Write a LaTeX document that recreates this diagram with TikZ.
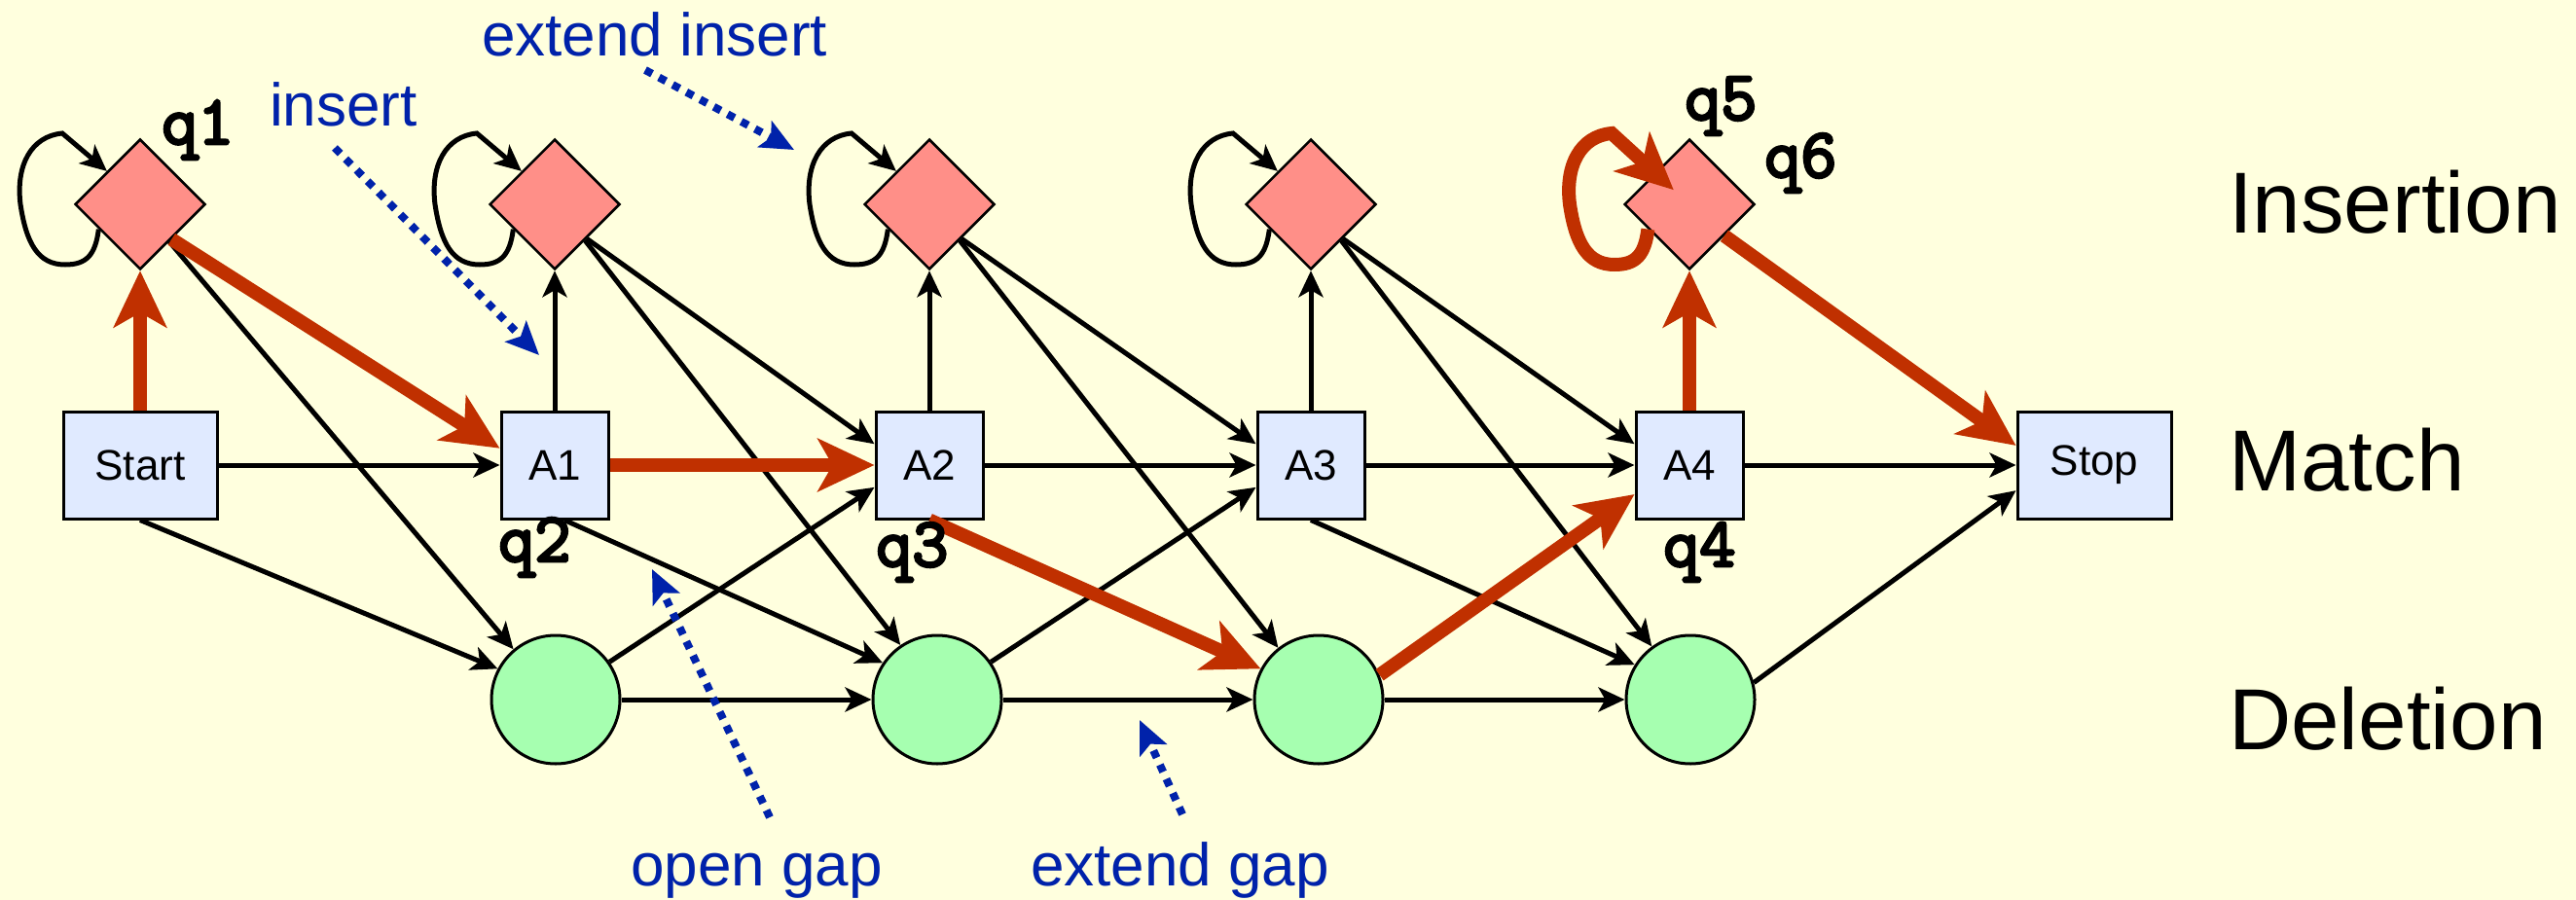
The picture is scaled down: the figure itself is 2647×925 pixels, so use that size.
\documentclass[tikz,border=0pt]{standalone}
\usepackage{fontspec}
\setmainfont{Liberation Sans}
\newfontfamily\qfont{Latin Modern Mono}[FakeBold=4]
\usetikzlibrary{arrows.meta,shapes.geometric}
\definecolor{bg}{RGB}{255,255,222}
\definecolor{insfill}{RGB}{255,143,136}
\definecolor{matchfill}{RGB}{224,234,255}
\definecolor{delfill}{RGB}{166,255,176}
\definecolor{hot}{RGB}{192,48,0}
\definecolor{note}{RGB}{0,34,170}
\begin{document}
\begin{tikzpicture}[x=1pt,y=-1pt,
  insnode/.style={diamond, draw=black, line width=2.5pt, fill=insfill, minimum width=134pt, minimum height=134pt, inner sep=0pt, shape aspect=1},
  matchnode/.style={rectangle, draw=black, line width=3pt, fill=matchfill, minimum width=110pt, minimum height=110pt, inner sep=0pt, font=\fontsize{44pt}{50pt}\selectfont},
  endnode/.style={matchnode, minimum width=158pt},
  delnode/.style={circle, draw=black, line width=3pt, fill=delfill, minimum size=132pt, inner sep=0pt},
  edge/.style={line width=5pt, -{Stealth[length=27pt,width=25pt,inset=7pt]}},
  hotedge/.style={line width=14pt, hot, -{Stealth[length=58pt,width=54pt,inset=15pt]}},
  noteedge/.style={note, line width=8pt, dash pattern=on 8pt off 8pt, -{Stealth[length=34pt,width=30pt,inset=7pt]}},
  notelbl/.style={note, inner sep=0pt, anchor=base west, font=\fontsize{62pt}{70pt}\selectfont},
  rowlbl/.style={black, inner sep=0pt, anchor=base west, font=\fontsize{89pt}{100pt}\selectfont},
  qlbl/.style={black, inner sep=0pt, anchor=base west, font=\qfont\fontsize{72pt}{74pt}\selectfont},
  blkloop/.style={line width=5pt, -{Stealth[length=27pt,width=25pt,inset=7pt]}},
  hotloop/.style={line width=14pt, hot, -{Stealth[length=58pt,width=54pt,inset=15pt]}}
]
\fill[bg] (0,0) rectangle (2647,925);
\useasboundingbox (0,0) rectangle (2647,925);

% insertion states
\node[insnode] (i0) at (144,210) {};
\node[insnode] (i1) at (570,210) {};
\node[insnode] (i2) at (955,210) {};
\node[insnode] (i3) at (1347,210) {};
\node[insnode] (i4) at (1736,210) {};
% match states
\node[endnode] (start) at (144,478) {Start};
\node[matchnode] (m1) at (570,478) {A1};
\node[matchnode] (m2) at (955,478) {A2};
\node[matchnode] (m3) at (1347,478) {A3};
\node[matchnode] (m4) at (1736,478) {A4};
\node[endnode] (stop) at (2152,478) {Stop};
% deletion states
\node[delnode] (d1) at (571,719) {};
\node[delnode] (d2) at (963,719) {};
\node[delnode] (d3) at (1355,719) {};
\node[delnode] (d4) at (1737,719) {};

% self loops
\foreach \n in {i0,i1,i2,i3}{
  \begin{scope}[shift={(\n.center)}]
    \draw[blkloop] (\n.211) .. controls (-46,52) and (-55,62) .. (-77,62)
      .. controls (-105,62) and (-117,40) .. (-123,0)
      .. controls (-128,-40) and (-112,-70) .. (-80,-73) -- (\n.135);
  \end{scope}
}
\begin{scope}[shift={(i4.center)}]
  \draw[hotloop, shorten >=22pt] (i4.211) .. controls (-46,52) and (-55,62) .. (-77,62)
    .. controls (-105,62) and (-117,40) .. (-123,0)
    .. controls (-128,-40) and (-112,-70) .. (-80,-73) -- (i4.center);
\end{scope}

% from Start
\draw[edge] (start.east) -- (m1.west);
\draw[edge] (start.south) -- (d1.152);
% from i0
\draw[edge] (i0.-52) -- (d1.130);
% from m1
\draw[edge] (m1.north) -- (i1.south);
\draw[edge] (m1.-80) -- (d2.146);
% from i1
\draw[edge] (i1.-47) -- (m2.159);
\draw[edge] (i1.-50) -- (d2.124);
% from d1
\draw[edge] (d1.35) -- (m2.-158);
\draw[edge] (d1.east) -- (d2.west);
% from m2
\draw[edge] (m2.north) -- (i2.south);
\draw[edge] (m2.east) -- (m3.west);
% from i2
\draw[edge] (i2.-47) -- (m3.159);
\draw[edge] (i2.-50) -- (d3.128);
% from d2
\draw[edge] (d2.35) -- (m3.-158);
\draw[edge] (d2.east) -- (d3.west);
% from m3
\draw[edge] (m3.north) -- (i3.south);
\draw[edge] (m3.east) -- (m4.west);
\draw[edge] (m3.south) -- (d4.148);
% from i3
\draw[edge] (i3.-47) -- (m4.159);
\draw[edge] (i3.-50) -- (d4.126);
% from d3
\draw[edge] (d3.east) -- (d4.west);
% from m4, d4
\draw[edge] (m4.east) -- (stop.west);
\draw[edge] (d4.15) -- (stop.-162);

% highlighted path
\draw[hotedge] (start.north) -- (i0.south);
\draw[hotedge] (i0.-48) -- (m1.163);
\draw[hotedge] (m1.east) -- (m2.west);
\draw[hotedge] (m2.south) -- (d3.152);
\draw[hotedge] (d3.22) -- (m4.-152);
\draw[hotedge] (m4.north) -- (i4.south);
\draw[hotedge] (i4.-42) -- (stop.166);

% state names
\node[qlbl] (q1) at (166,148) {q1};
\node[qlbl] (q2) at (512,577) {q2};
\node[qlbl] (q3) at (900,582) {q3};
\node[qlbl] (q4) at (1709,582) {q4};
\node[qlbl] (q5) at (1731,123) {q5};
\node[qlbl] (q6) at (1813,182) {q6};

% row labels
\node[rowlbl] (rowins) at (2290,240) {Insertion};
\node[rowlbl] (rowmat) at (2290,504) {Match};
\node[rowlbl] (rowdel) at (2290,770) {Deletion};

% annotations
\node[notelbl] (lblins) at (277,130) {insert};
\node[notelbl] (lblext) at (495,58) {extend insert};
\node[notelbl] (lblopen) at (648,910) {open gap};
\node[notelbl] (lblextgap) at (1059,910) {extend gap};
\coordinate (insA) at (344,152);
\coordinate (insB) at (554,365);
\coordinate (extA) at (663,72);
\coordinate (extB) at (816,154);
\coordinate (openA) at (791,840);
\coordinate (openB) at (670,585);
\coordinate (egA) at (1215,837);
\coordinate (egB) at (1171,740);
\draw[noteedge] (insA) -- (insB);
\draw[noteedge] (extA) -- (extB);
\draw[noteedge] (openA) -- (openB);
\draw[noteedge] (egA) -- (egB);
\end{tikzpicture}
\end{document}
